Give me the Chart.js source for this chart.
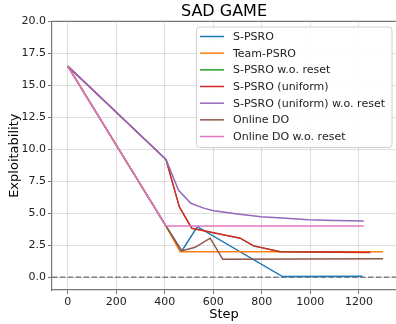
<!DOCTYPE html>
<html lang="en">
<head>
<meta charset="UTF-8">
<title>SAD GAME</title>
<script src="https://cdn.jsdelivr.net/npm/chart.js"></script>
<style>
  body { margin: 0; background: #fff; }
</style>
</head>
<body>
<canvas id="myChart" width="396" height="324"></canvas>
<script>
    // values
    const sPsroSteps = [0, 405, 470, 534, 885, 1215];
    const sPsroVals = [16.5, 4.0, 2.05, 3.95, 0.05, 0.08];

    const teamSteps = [0, 405, 463, 1300];
    const teamVals = [16.5, 4.0, 2.0, 2.0];

    // hidden under S-PSRO (uniform) in the picture
    const noResetSteps = [0, 405, 460, 511, 711, 766, 875, 1247];
    const noResetVals = [16.5, 9.2, 5.5, 3.83, 3.05, 2.45, 2.0, 1.93];

    const uniformSteps = [0, 405, 460, 511, 711, 766, 875, 1247];
    const uniformVals = [16.5, 9.2, 5.5, 3.83, 3.05, 2.45, 2.0, 1.93];

    const uniNoResetSteps = [0, 405, 456, 507, 560, 601, 700, 797, 900, 992, 1100, 1220];
    const uniNoResetVals = [16.5, 9.2, 6.82, 5.78, 5.4, 5.2, 4.95, 4.73, 4.6, 4.5, 4.43, 4.4];

    const onlineSteps = [0, 405, 469, 525, 587, 639, 1300];
    const onlineVals = [16.5, 4.0, 2.05, 2.34, 3.05, 1.4, 1.45];

    const onlineNoResetSteps = [0, 405, 1220];
    const onlineNoResetVals = [16.5, 4.0, 4.0];

    const zeroSteps = [-65, 1353];
    const zeroVals = [0, 0];

    const xTicks = [0, 200, 400, 600, 800, 1000, 1200];
    const yTicks = [0, 2.5, 5, 7.5, 10, 12.5, 15, 17.5, 20];

    function pts(xs, ys) {
        return xs.map((x, i) => ({ x: x, y: ys[i] }));
    }

    function series(label, xs, ys, color, order, width) {
        return {
            label: label,
            data: pts(xs, ys),
            borderColor: color,
            backgroundColor: color,
            borderWidth: width || 1.5,
            pointRadius: 0,
            tension: 0,
            order: order
        };
    }

    Chart.defaults.font.family = 'DejaVu Sans';
    Chart.defaults.color = '#222';

    // matplotlib style legend box inside the plot + top spine
    const boxLegend = {
        id: 'boxLegend',
        afterDraw(chart) {
            const ctx = chart.ctx;
            const ca = chart.chartArea;
            ctx.save();
            ctx.strokeStyle = '#777';
            ctx.lineWidth = 1.2;
            ctx.beginPath();
            ctx.moveTo(ca.left, ca.top);
            ctx.lineTo(ca.right, ca.top);
            ctx.stroke();

            const items = chart.data.datasets.filter(d => !d.hideLegend);
            const bx = 196.5, by = 27, bw = 195.5, bh = 120.5;
            ctx.fillStyle = 'rgba(255,255,255,0.85)';
            ctx.strokeStyle = '#d0d0d0';
            ctx.lineWidth = 1;
            ctx.beginPath();
            ctx.roundRect(bx, by, bw, bh, 3);
            ctx.fill();
            ctx.stroke();

            ctx.font = '11px "DejaVu Sans"';
            ctx.textBaseline = 'middle';
            ctx.textAlign = 'left';
            items.forEach((d, i) => {
                const y = 36.5 + i * 16.67;
                ctx.strokeStyle = d.borderColor;
                ctx.lineWidth = 1.5;
                ctx.beginPath();
                ctx.moveTo(200, y);
                ctx.lineTo(224, y);
                ctx.stroke();
                ctx.fillStyle = '#222';
                ctx.fillText(d.label, 233, y + 0.5);
            });
            ctx.restore();
        }
    };

    const zeroLine = {
        label: 'zero',
        data: pts(zeroSteps, zeroVals),
        borderColor: '#808080',
        borderWidth: 1.5,
        borderDash: [5.5, 2.4],
        pointRadius: 0,
        order: 9,
        hideLegend: true
    };

    const data = {
        datasets: [
            series('S-PSRO', sPsroSteps, sPsroVals, '#1f77b4', 7),
            series('Team-PSRO', teamSteps, teamVals, '#ff7f0e', 6),
            series('S-PSRO w.o. reset', noResetSteps, noResetVals, '#2ca02c', 5, 1.1),
            series('S-PSRO (uniform)', uniformSteps, uniformVals, '#d62728', 4),
            series('S-PSRO (uniform) w.o. reset', uniNoResetSteps, uniNoResetVals, '#9467bd', 3),
            series('Online DO', onlineSteps, onlineVals, '#8c564b', 2),
            series('Online DO w.o. reset', onlineNoResetSteps, onlineNoResetVals, '#e377c2', 1),
            zeroLine
        ]
    };

    const gridStyle = {
        color: 'rgba(0,0,0,0.16)',
        lineWidth: 0.8,
        borderDash: [1.5, 1.5],
        tickLength: 4,
        tickColor: '#555',
        tickBorderDash: []
    };

    const options = {
        responsive: false,
        animation: false,
        devicePixelRatio: 1,
        layout: { padding: 0 },
        plugins: {
            legend: { display: false },
            tooltip: { enabled: false },
            title: {
                display: true,
                text: 'SAD GAME',
                fullSize: false,
                color: '#000',
                font: { size: 16, weight: 'normal', lineHeight: 1.15 },
                padding: { top: 3, bottom: 0 }
            }
        },
        scales: {
            x: {
                type: 'linear',
                min: -65,
                max: 1353,
                grid: gridStyle,
                border: { display: true, color: '#777', width: 1.2 },
                afterBuildTicks: (scale) => { scale.ticks = xTicks.map(v => ({ value: v })); },
                afterFit: (scale) => { scale.height = 34; },
                ticks: {
                    font: { size: 11 },
                    padding: 2,
                    maxRotation: 0,
                    callback: (v) => String(v)
                },
                title: {
                    display: true,
                    text: 'Step',
                    color: '#000',
                    font: { size: 13 },
                    padding: { top: 0, bottom: 2 }
                }
            },
            y: {
                type: 'linear',
                min: -1,
                max: 20,
                grid: gridStyle,
                border: { display: true, color: '#777', width: 1.2 },
                afterBuildTicks: (scale) => { scale.ticks = yTicks.map(v => ({ value: v })); },
                afterFit: (scale) => { scale.width = 52; },
                ticks: {
                    font: { size: 11 },
                    padding: 2,
                    callback: (v) => v.toFixed(1)
                },
                title: {
                    display: true,
                    text: 'Exploitability',
                    color: '#000',
                    font: { size: 13 },
                    padding: { top: 7, bottom: 0 }
                }
            }
        }
    };

    new Chart(document.getElementById('myChart'), {
        type: 'line',
        data: data,
        options: options,
        plugins: [boxLegend]
    });
</script>
</body>
</html>
